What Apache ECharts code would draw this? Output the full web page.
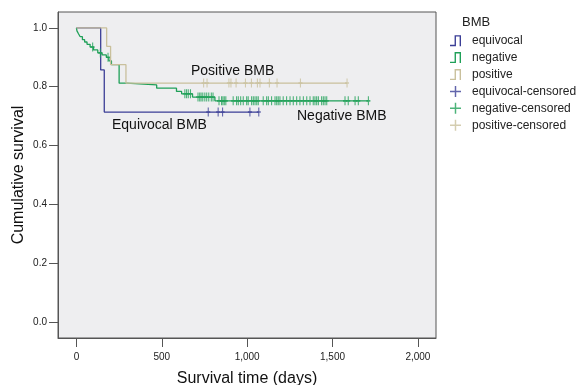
<!DOCTYPE html>
<html>
<head>
<meta charset="utf-8">
<script src="https://cdn.jsdelivr.net/npm/echarts@6/dist/echarts.min.js"></script>
<style>
  html, body { margin: 0; padding: 0; background: #fff; }
  #echart { width: 584px; height: 385px; }
</style>
</head>
<body>
<div id="echart"></div>
<script>
// Kaplan-Meier steps: [day, survival after that day]
var equivocalSteps = [[0, 1], [142, 0.857], [163, 0.714], [1068, 0.714]];
var positiveSteps = [[0, 1], [177, 0.9375], [200, 0.875], [290, 0.8125], [1585, 0.8125]];
var negativeSteps = [
    [0, 1], [3, 0.99], [12, 0.98], [22, 0.97], [35, 0.96], [48, 0.952], [62, 0.944],
    [80, 0.935], [100, 0.925], [125, 0.915], [150, 0.908], [175, 0.9], [190, 0.888],
    [205, 0.875], [250, 0.812], [294, 0.806], [470, 0.795], [586, 0.784], [616, 0.776],
    [680, 0.765], [811, 0.752], [1710, 0.752]
];

// censored follow-up times (days)
var equivocalCensored = [772, 830, 856, 1016, 1068];
var positiveCensored = [745, 765, 893, 905, 935, 990, 1025, 1060, 1075, 1130, 1175, 1312, 1585];
var negativeCensored = [
    95, 140, 185,
    635, 645, 655, 668,
    712, 722, 730, 740, 752, 763, 775, 790, 800,
    835, 850, 858, 866, 875, 918, 938, 948, 962, 977, 997, 1006, 1026, 1036, 1046,
    1056, 1065, 1094, 1114, 1124, 1143, 1163, 1173, 1182, 1192, 1211, 1231, 1251,
    1270, 1290, 1309, 1329, 1349, 1368, 1387, 1397, 1407, 1417, 1436, 1446, 1456,
    1466, 1573, 1592, 1632, 1651, 1710
];

var xTicks = [0, 500, 1000, 1500, 2000];
var yTicks = [0, 0.2, 0.4, 0.6, 0.8, 1.0];

var FONT = 'Arial, "Liberation Sans", sans-serif';
var C_EQ = '#3B3E96', C_NEG = '#1FA058', C_POS = '#C9C09C';

// put censor marks on the step curve
function onCurve(steps, days) {
    return days.map(function (d) {
        var s = steps[0][1];
        for (var i = 0; i < steps.length; i++) {
            if (steps[i][0] <= d) s = steps[i][1];
        }
        return [d, s];
    });
}

var stepIcon = 'path://M0,10.5L5,10.5L5,0L12,0L12,12L10.5,12L10.5,1.5L6.5,1.5L6.5,12L0,12Z';
var plusMark = 'path://M2.2,0H3.8V3.7H6V5.3H3.8V9H2.2V5.3H0V3.7H2.2Z';
var plusIcon = 'path://M5.2,0H6.8V5.2H12V6.8H6.8V12H5.2V6.8H0V5.2H5.2Z';

function lineSeries(name, data, color) {
    return {
        name: name, type: 'line', step: 'end', data: data,
        showSymbol: false, symbol: 'none',
        lineStyle: { color: color, width: 1.3 },
        itemStyle: { color: color },
        emphasis: { disabled: true },
        z: 2
    };
}
function censorSeries(name, data, color) {
    return {
        name: name, type: 'scatter', data: data,
        symbol: plusMark, symbolSize: [6, 9], symbolKeepAspect: true,
        itemStyle: { color: color },
        emphasis: { disabled: true },
        z: 3
    };
}

var myChart = echarts.init(document.getElementById('echart'), null, { renderer: 'canvas' });

var option = {
    animation: false,
    backgroundColor: '#fff',
    textStyle: { fontFamily: FONT },
    grid: {
        left: 58, top: 12, width: 378, height: 326,
        outerBoundsMode: 'none', containLabel: false,
        show: true, backgroundColor: '#EEEEF0', borderColor: '#555', borderWidth: 1
    },
    xAxis: {
        type: 'value', min: -108, max: 2106,
        name: 'Survival time (days)', nameLocation: 'middle', nameGap: 33,
        nameMoveOverlap: false,
        nameTextStyle: { fontSize: 16, color: '#111', fontFamily: FONT },
        axisLine: { show: true, onZero: false, lineStyle: { color: '#555' } },
        axisTick: { show: true, length: 9, customValues: xTicks, lineStyle: { color: '#555' } },
        axisLabel: {
            customValues: xTicks, margin: 14, fontSize: 10, color: '#222', fontFamily: FONT,
            formatter: function (v) { return v.toLocaleString('en-US'); }
        },
        splitLine: { show: false }
    },
    yAxis: {
        type: 'value', min: -0.054, max: 1.054,
        axisLine: { show: true, onZero: false, lineStyle: { color: '#555' } },
        axisTick: { show: true, length: 9, customValues: yTicks, lineStyle: { color: '#555' } },
        axisLabel: {
            customValues: yTicks, margin: 11, fontSize: 10, color: '#222', fontFamily: FONT,
            formatter: function (v) { return v.toFixed(1); }
        },
        splitLine: { show: false }
    },
    title: {
        text: 'BMB', left: 457, top: 11,
        textStyle: { fontSize: 13, fontWeight: 'normal', color: '#222', fontFamily: FONT }
    },
    legend: {
        orient: 'vertical', left: 445, top: 29.7,
        itemWidth: 11, itemHeight: 11, itemGap: 4.9,
        selectedMode: false,
        textStyle: { fontSize: 12, color: '#222', fontFamily: FONT, padding: [0, 0, 0, 6] },
        data: [
            { name: 'equivocal', icon: stepIcon },
            { name: 'negative', icon: stepIcon },
            { name: 'positive', icon: stepIcon },
            { name: 'equivocal-censored', icon: plusIcon },
            { name: 'negative-censored', icon: plusIcon },
            { name: 'positive-censored', icon: plusIcon }
        ]
    },
    graphic: [
        {
            type: 'text', x: 19, y: 175, rotation: Math.PI / 2,
            style: { text: 'Cumulative survival', font: '16px ' + FONT, fill: '#111', align: 'center', verticalAlign: 'middle' }
        },
        { type: 'text', left: 191, top: 64, style: { text: 'Positive BMB', font: '14px ' + FONT, fill: '#111' } },
        { type: 'text', left: 112, top: 118, style: { text: 'Equivocal BMB', font: '14px ' + FONT, fill: '#111' } },
        { type: 'text', left: 297, top: 109, style: { text: 'Negative BMB', font: '14px ' + FONT, fill: '#111' } }
    ],
    series: [
        lineSeries('equivocal', equivocalSteps, C_EQ),
        lineSeries('negative', negativeSteps, C_NEG),
        lineSeries('positive', positiveSteps, C_POS),
        censorSeries('equivocal-censored', onCurve(equivocalSteps, equivocalCensored), C_EQ),
        censorSeries('negative-censored', onCurve(negativeSteps, negativeCensored), C_NEG),
        censorSeries('positive-censored', onCurve(positiveSteps, positiveCensored), C_POS)
    ]
};
myChart.setOption(option);
</script>
</body>
</html>
